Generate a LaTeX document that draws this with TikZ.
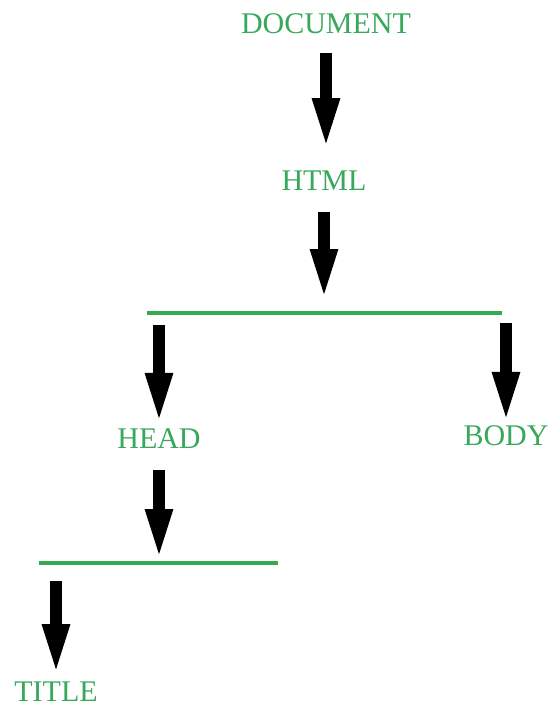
\documentclass[tikz,border=0pt]{standalone}
\usepackage{fontspec}
\setmainfont{Liberation Serif}
\usetikzlibrary{arrows.meta,positioning,calc}
\definecolor{leaf}{HTML}{38A85C}
\definecolor{branch}{HTML}{36AA52}
\definecolor{ink}{HTML}{000000}

\tikzset{
  tag/.style={text=leaf,inner sep=0pt,anchor=base,font=\fontsize{30}{36}\selectfont},
  flow/.style={ink,line width=12.5pt,-{Triangle[length=53pt,width=24pt]}},
  fork/.style={branch,line width=4.5pt},
}

\begin{document}
\begin{tikzpicture}[x=1pt,y=-1pt]
  \path[use as bounding box] (0,0) rectangle (552,706);
  % element names, placed on their baselines
  \node[tag] (doc)   at (326,34)  {DOCUMENT};
  \node[tag] (html)  at (324,190) {HTML};
  \node[tag] (head)  at (159,448) {HEAD};
  \node[tag] (body)  at (506,445) {BODY};
  \node[tag] (title) at (56,701)  {TITLE};

  % horizontal splits under HTML and HEAD
  \coordinate (fork1w) at (147,313);
  \coordinate (fork1e) at (502,313);
  \coordinate (fork2w) at (39,563);
  \coordinate (fork2e) at (278,563);
  \draw[fork] (fork1w) -- (fork1e);
  \draw[fork] (fork2w) -- (fork2e);

  % downward arrows
  \draw[flow,shorten <=19pt,shorten >=19pt] (doc.south) -- (doc.south |- html.north);
  \draw[flow,shorten <=22pt,shorten >=11pt] (html.south) -- (html.south |- fork1w);
  \draw[flow,shorten <=12pt,shorten >=2pt] (head.north |- fork1w) -- (head.north);
  \draw[flow,shorten <=10pt,shorten >=0pt] (body.north |- fork1w) -- (body.north);
  \draw[flow,shorten <=22pt,shorten >=1pt] (head.south) -- (head.south |- fork2w);
  \draw[flow,shorten <=18pt,shorten >=4pt] (title.north |- fork2w) -- (title.north);
\end{tikzpicture}
\end{document}
